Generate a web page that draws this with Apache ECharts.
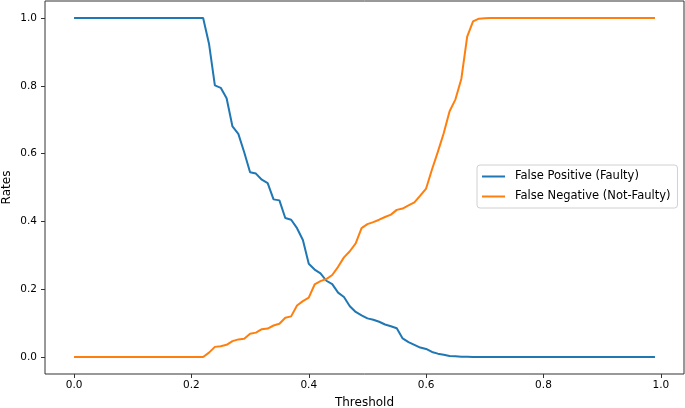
<!DOCTYPE html>
<html>
<head>
<meta charset="utf-8">
<script src="https://cdn.jsdelivr.net/npm/echarts@6/dist/echarts.min.js"></script>
<style>
html,body{margin:0;padding:0;background:#fff;}
#chart{width:685px;height:408px;}
</style>
</head>
<body>
<div id="chart"></div>
<script>
const thresholds = [];
for (let i = 0; i < 100; i++) thresholds.push(+(i / 100).toFixed(2));

const falsePositive = [
  1,1,1,1,1,1,1,1,1,1,
  1,1,1,1,1,1,1,1,1,1,
  1,1,1,0.924,0.801,0.794,0.763,0.680,0.658,0.604,
  0.545,0.541,0.523,0.513,0.465,0.462,0.410,0.405,0.380,0.345,
  0.275,0.258,0.247,0.225,0.215,0.190,0.177,0.150,0.133,0.123,
  0.114,0.110,0.104,0.096,0.091,0.085,0.055,0.044,0.036,0.028,
  0.024,0.015,0.010,0.007,0.003,0.002,0.001,0.001,0,0,
  0,0,0,0,0,0,0,0,0,0,
  0,0,0,0,0,0,0,0,0,0,
  0,0,0,0,0,0,0,0,0,0
];

const falseNegative = [
  0,0,0,0,0,0,0,0,0,0,
  0,0,0,0,0,0,0,0,0,0,
  0,0,0,0.013,0.030,0.032,0.036,0.047,0.052,0.054,
  0.069,0.072,0.082,0.084,0.093,0.098,0.116,0.120,0.152,0.165,
  0.175,0.214,0.224,0.230,0.242,0.266,0.294,0.312,0.335,0.380,
  0.392,0.398,0.405,0.413,0.420,0.434,0.438,0.447,0.456,0.476,
  0.497,0.553,0.605,0.660,0.725,0.760,0.820,0.945,0.990,0.998,
  0.999,1,1,1,1,1,1,1,1,1,
  1,1,1,1,1,1,1,1,1,1,
  1,1,1,1,1,1,1,1,1,1
];

const xTicks = [0, 0.2, 0.4, 0.6, 0.8, 1.0];
const yTicks = [0, 0.2, 0.4, 0.6, 0.8, 1.0];
const seriesNames = ['False Positive (Faulty)', 'False Negative (Not-Faulty)'];

const font = 'DejaVu Sans';
const chart = echarts.init(document.getElementById('chart'), null, {renderer: 'canvas'});
chart.setOption({
  animation: false,
  backgroundColor: '#fff',
  grid: {left: 45, right: 1, top: 1, bottom: 34, containLabel: false, outerBoundsMode: 'none',
    show: true, borderColor: '#333', borderWidth: 1, backgroundColor: 'transparent'},
  legend: {
    orient: 'vertical',
    left: 477, top: 165,
    data: seriesNames.map(n => ({name: n})),
    icon: 'rect',
    itemWidth: 23, itemHeight: 2,
    itemGap: 7,
    padding: [5, 7, 5, 5],
    borderColor: '#d0d0d0', borderWidth: 1, borderRadius: 3,
    backgroundColor: '#fff',
    textStyle: {fontFamily: font, fontSize: 11.5, color: '#000', lineHeight: 13, padding: [0,0,0,5]}
  },
  xAxis: {
    type: 'value', min: -0.0495, max: 1.0395,
    name: 'Threshold', nameLocation: 'middle', nameGap: 23, nameMoveOverlap: false,
    nameTextStyle: {fontFamily: font, fontSize: 12, color: '#000'},
    splitLine: {show: false},
    axisLine: {show: false, onZero: false},
    axisTick: {show: true, length: 4, customValues: xTicks, lineStyle: {color: '#333'}},
    axisLabel: {customValues: xTicks, margin: 6, fontFamily: font, fontSize: 10.5, color: '#000',
      formatter: v => v.toFixed(1)}
  },
  yAxis: {
    type: 'value', min: -0.05, max: 1.05,
    name: 'Rates', nameLocation: 'middle', nameGap: 32, nameMoveOverlap: false,
    nameTextStyle: {fontFamily: font, fontSize: 12, color: '#000'},
    splitLine: {show: false},
    axisLine: {show: false, onZero: false},
    axisTick: {show: true, length: 4, customValues: yTicks, lineStyle: {color: '#333'}},
    axisLabel: {customValues: yTicks, margin: 8, fontFamily: font, fontSize: 10.5, color: '#000',
      formatter: v => v.toFixed(1)}
  },
  series: [
    {
      name: seriesNames[0], type: 'line', showSymbol: false, symbol: 'none',
      data: thresholds.map((t, i) => [t, falsePositive[i]]),
      lineStyle: {color: '#1f77b4', width: 2}, itemStyle: {color: '#1f77b4'}
    },
    {
      name: seriesNames[1], type: 'line', showSymbol: false, symbol: 'none',
      data: thresholds.map((t, i) => [t, falseNegative[i]]),
      lineStyle: {color: '#ff7f0e', width: 2}, itemStyle: {color: '#ff7f0e'}
    }
  ]
});
</script>
</body>
</html>
